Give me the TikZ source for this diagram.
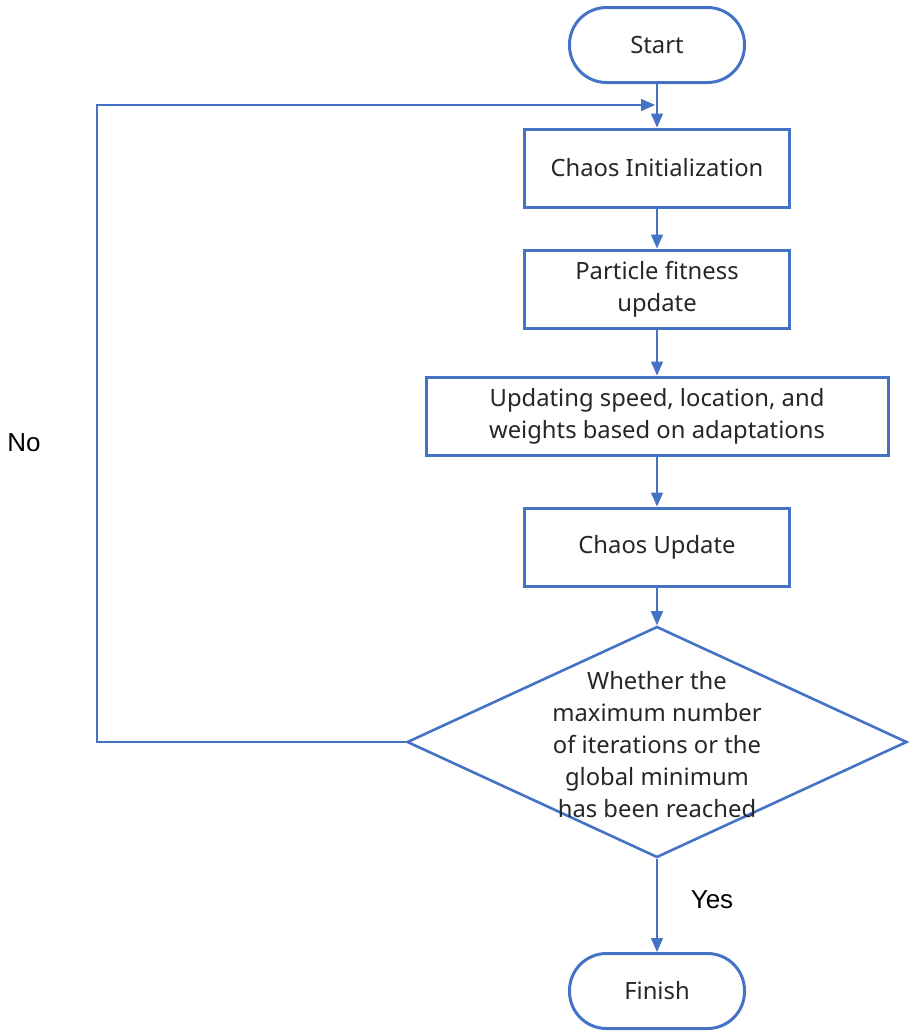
\documentclass[tikz,border=0pt]{standalone}
\usepackage{fontspec}
\setmainfont{Noto Sans}
\newfontfamily\arialfont{Liberation Sans}
\usetikzlibrary{shapes.geometric,arrows.meta}

\definecolor{flowblue}{HTML}{4472C4}

\begin{document}
\begin{tikzpicture}[x=1pt,y=-1pt,
    >={Triangle[length=14pt,width=12pt]},
    every node/.style={font=\fontsize{23.8}{32}\selectfont, text=black!85},
    terminal/.style={draw=flowblue, line width=3pt, rectangle, rounded corners=37pt,
      minimum width=175pt, minimum height=75pt},
    process/.style={draw=flowblue, line width=3pt, rectangle,
      minimum width=265pt, minimum height=78pt, align=center},
    decision/.style={draw=flowblue, line width=2.6pt, diamond,
      minimum width=500pt, minimum height=231pt, inner sep=0pt},
    link/.style={draw=flowblue, line width=1.4pt},
    answer/.style={font=\arialfont\fontsize{26}{30}\selectfont, text=black}]
  \useasboundingbox (0,0) rectangle (909,1031);

  \node[terminal] (start) at (657,45) {Start};
  \node[process] (init) at (657,168) {Chaos Initialization};
  \node[process] (fitness) at (657,289) {Particle fitness\\update};
  \node[process, minimum width=462pt] (update) at (657,416)
    {Updating speed, location, and\\weights based on adaptations};
  \node[process] (chaos) at (657,547) {Chaos Update};
  \node[decision] (check) at (657,742) {};
  \node[align=center] (checktext) at (657,745) {Whether the\\maximum number\\of iterations or the\\global minimum\\has been reached};
  \node[terminal] (finish) at (657,991) {Finish};

  \coordinate (loopin) at (655,105);
  \coordinate (loopbottom) at (97,742);
  \coordinate (looptop) at (97,105);

  \draw[link,->] (start) -- (init);
  \draw[link,->] (init) -- (fitness);
  \draw[link,->] (fitness) -- (update);
  \draw[link,->] (update) -- (chaos);
  \draw[link,->] (chaos) -- (check);
  \draw[link,->] (check) -- (finish);
  \draw[link,->] (check.west) -- (loopbottom) -- (looptop) -- (loopin);

  \node[answer] (yes) at (712,900) {Yes};
  \node[answer] (no) at (24,443) {No};
\end{tikzpicture}
\end{document}
